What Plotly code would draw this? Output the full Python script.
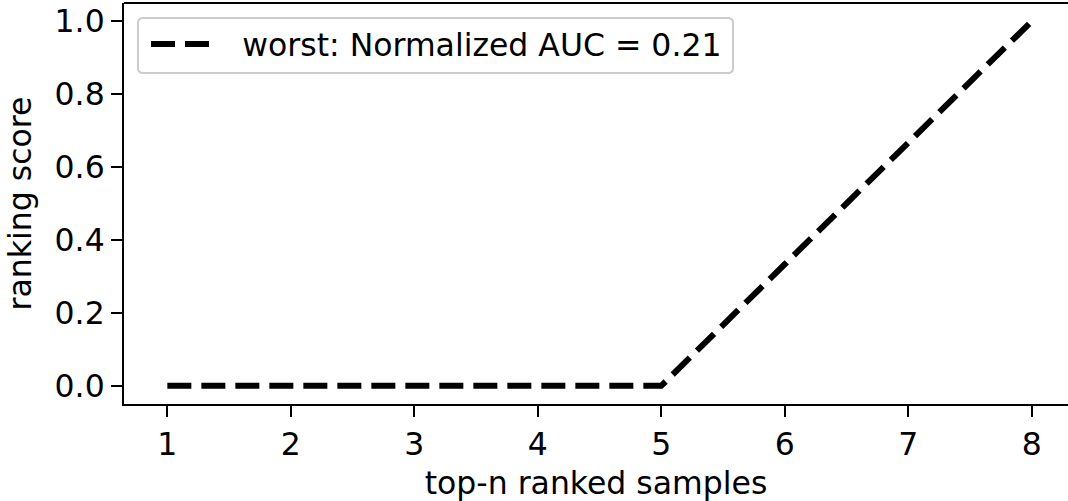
import plotly.graph_objects as go

# Data
x_vals = [1, 2, 3, 4, 5, 6, 7, 8]
y_vals = [0.0, 0.0, 0.0, 0.0, 0.0, 1/3, 2/3, 1.0]
series_name = "worst: Normalized AUC = 0.21"
x_ticks = [1, 2, 3, 4, 5, 6, 7, 8]
y_ticks = [0.0, 0.2, 0.4, 0.6, 0.8, 1.0]
y_ticklabels = ["0.0", "0.2", "0.4", "0.6", "0.8", "1.0"]

FONT = "DejaVu Sans"
FS = 31.5

W, H = 1068, 501
ML, MR, MT, MB = 124, 0, 3, 97
PW, PH = W - ML - MR, H - MT - MB


def px_x(p):
    return (p - ML) / PW


def px_y(p):
    return 1 - (p - MT) / PH


fig = go.Figure()
fig.add_trace(go.Scatter(
    x=x_vals, y=y_vals, mode="lines", name="\u00a0\u00a0\u2009" + series_name,
    line=dict(color="black", width=6, dash="24px,10px"),
))

fig.update_layout(
    width=W, height=H,
    margin=dict(l=ML, r=MR, t=MT, b=MB, autoexpand=False),
    paper_bgcolor="white", plot_bgcolor="white",
    font=dict(family=FONT, size=FS, color="black"),
    showlegend=True,
    legend=dict(
        x=px_x(146), y=px_y(17), xanchor="left", yanchor="top",
        bgcolor="rgba(0,0,0,0)", borderwidth=0,
        font=dict(family=FONT, size=FS, color="black"),
        itemwidth=60,
    ),
)
fig.update_xaxes(
    range=[0.649, 8.294], tickmode="array", tickvals=x_ticks,
    showgrid=False, zeroline=False, showline=True, linecolor="black", linewidth=2,
    ticks="outside", ticklen=11, tickwidth=2, tickcolor="black",
    title=dict(text="top-n ranked samples", standoff=13, font=dict(size=FS)),
)
fig.update_yaxes(
    range=[-0.05, 1.05], tickmode="array", tickvals=y_ticks, ticktext=y_ticklabels,
    showgrid=False, zeroline=False, showline=True, linecolor="black", linewidth=2,
    ticks="outside", ticklen=11, tickwidth=2, tickcolor="black",
    title=dict(text="ranking score", standoff=14, font=dict(size=FS)),
)
# top spine (right spine falls outside the visible figure)
fig.add_shape(type="line", xref="paper", yref="paper", x0=0, x1=1, y0=1, y1=1,
              line=dict(color="black", width=2))

# rounded legend frame
lx0, lx1, ly0, ly1, r = 138, 733, 18, 73, 5
rx, ry = r / PW, r / PH
X0, X1, Y0, Y1 = px_x(lx0), px_x(lx1), px_y(ly0), px_y(ly1)
path = (f"M{X0+rx},{Y0} L{X1-rx},{Y0} Q{X1},{Y0} {X1},{Y0-ry} "
        f"L{X1},{Y1+ry} Q{X1},{Y1} {X1-rx},{Y1} "
        f"L{X0+rx},{Y1} Q{X0},{Y1} {X0},{Y1+ry} "
        f"L{X0},{Y0-ry} Q{X0},{Y0} {X0+rx},{Y0} Z")
fig.add_shape(type="path", xref="paper", yref="paper", path=path,
              fillcolor="rgba(255,255,255,0.8)", line=dict(color="#cccccc", width=2),
              layer="above")

fig.write_html("out.html")
